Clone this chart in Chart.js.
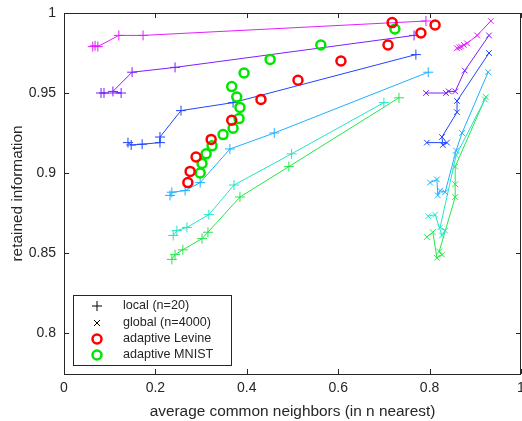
<!DOCTYPE html>
<html>
<head>
<meta charset="utf-8">
<script src="https://cdn.jsdelivr.net/npm/chart.js@4.4.0/dist/chart.umd.min.js"></script>
<style>
  html, body { margin: 0; padding: 0; background: #fff; }
  #wrap { width: 522px; height: 421px; }
</style>
</head>
<body>
<div id="wrap"><canvas id="chart" width="522" height="421"></canvas></div>
<script>
// 軸の目盛り
const xTicks = [0, 0.2, 0.4, 0.6, 0.8, 1];
const yTicks = [0.8, 0.85, 0.9, 0.95, 1];

// 色（n の値ごと）
const seriesColors = ["#e41cff", "#7f1cff", "#1f45ff", "#1fb0ff", "#22e6c4", "#22e84a"];

// local (n=20) : [x, y]
const localMagenta = [[0.063, 0.979], [0.068, 0.9795], [0.074, 0.979], [0.120, 0.986], [0.173, 0.986], [0.792, 0.995]];
const localViolet = [[0.081, 0.950], [0.0875, 0.950], [0.125, 0.950], [0.107, 0.951], [0.149, 0.963], [0.243, 0.966], [0.766, 0.986]];
const localBlue = [[0.140, 0.919], [0.147, 0.9175], [0.171, 0.918], [0.210, 0.919], [0.210, 0.9225], [0.256, 0.939], [0.370, 0.944], [0.770, 0.974]];
const localSky = [[0.232, 0.886], [0.236, 0.888], [0.265, 0.889], [0.298, 0.894], [0.363, 0.915], [0.460, 0.925], [0.797, 0.963]];
const localAqua = [[0.239, 0.861], [0.247, 0.864], [0.269, 0.866], [0.317, 0.874], [0.372, 0.8925], [0.498, 0.912], [0.700, 0.944]];
const localGreen = [[0.236, 0.846], [0.243, 0.849], [0.260, 0.852], [0.302, 0.859], [0.315, 0.863], [0.385, 0.885], [0.492, 0.904], [0.733, 0.947]];

// global (n=4000) : [x, y]
const globalMagenta = [[0.860, 0.978], [0.865, 0.9785], [0.869, 0.979], [0.875, 0.980], [0.882, 0.981], [0.904, 0.986], [0.934, 0.995]];
const globalViolet = [[0.792, 0.950], [0.836, 0.950], [0.842, 0.951], [0.856, 0.951], [0.877, 0.964], [0.930, 0.986]];
const globalBlue = [[0.794, 0.919], [0.838, 0.919], [0.829, 0.9175], [0.827, 0.9225], [0.860, 0.938], [0.860, 0.945], [0.930, 0.975]];
const globalSky = [[0.801, 0.894], [0.816, 0.896], [0.818, 0.886], [0.823, 0.889], [0.834, 0.888], [0.858, 0.914], [0.871, 0.925], [0.928, 0.963]];
const globalAqua = [[0.797, 0.873], [0.812, 0.874], [0.827, 0.861], [0.834, 0.864], [0.823, 0.866], [0.858, 0.911], [0.921, 0.946]];
const globalGreen = [[0.794, 0.860], [0.807, 0.863], [0.816, 0.847], [0.827, 0.849], [0.821, 0.851], [0.856, 0.885], [0.856, 0.893], [0.856, 0.904], [0.923, 0.9475]];

// adaptive
const adaptiveLevine = [[0.271, 0.894], [0.276, 0.901], [0.289, 0.910], [0.322, 0.921], [0.367, 0.933], [0.431, 0.946], [0.512, 0.958], [0.606, 0.970], [0.709, 0.980], [0.718, 0.994], [0.781, 0.9875], [0.812, 0.9925]];
const adaptiveMnist = [[0.298, 0.900], [0.302, 0.906], [0.311, 0.912], [0.324, 0.917], [0.348, 0.924], [0.370, 0.928], [0.383, 0.934], [0.385, 0.941], [0.378, 0.9475], [0.367, 0.954], [0.394, 0.9625], [0.451, 0.971], [0.562, 0.980], [0.724, 0.990]];

const legendLabels = ["local (n=20)", "global (n=4000)", "adaptive Levine", "adaptive MNIST"];

const localSeries = [localMagenta, localViolet, localBlue, localSky, localAqua, localGreen];
const globalSeries = [globalMagenta, globalViolet, globalBlue, globalSky, globalAqua, globalGreen];

const fontFamily = "'Liberation Sans', Arial, sans-serif";

function toPoints(arr) {
  return arr.map((p) => ({ x: p[0], y: p[1] }));
}

function lineDataset(arr, color, style) {
  return {
    data: toPoints(arr),
    showLine: true,
    borderColor: color,
    backgroundColor: color,
    borderWidth: 1,
    pointStyle: style,
    pointRadius: style === "cross" ? 5 : 4,
    pointBorderWidth: 1,
    pointBorderColor: color,
  };
}

const datasets = [];
// 円は線の上に描く
datasets.push({
  data: toPoints(adaptiveLevine),
  showLine: false,
  pointStyle: "circle",
  pointRadius: 4.5,
  pointBorderWidth: 2.5,
  pointBorderColor: "#ff0000",
  pointBackgroundColor: "rgba(0,0,0,0)",
});
datasets.push({
  data: toPoints(adaptiveMnist),
  showLine: false,
  pointStyle: "circle",
  pointRadius: 4.5,
  pointBorderWidth: 2.5,
  pointBorderColor: "#00e600",
  pointBackgroundColor: "rgba(0,0,0,0)",
});
localSeries.forEach((s, i) => datasets.push(lineDataset(s, seriesColors[i], "cross")));
globalSeries.forEach((s, i) => datasets.push(lineDataset(s, seriesColors[i], "crossRot")));

const axisColor = "#262626";

// 枠と内向きの目盛り、凡例
const boxPlugin = {
  id: "box",
  afterDraw(chart) {
    const ctx = chart.ctx;
    const a = chart.chartArea;
    const xs = chart.scales.x;
    const ys = chart.scales.y;
    ctx.save();
    ctx.strokeStyle = axisColor;
    ctx.lineWidth = 1;
    ctx.strokeRect(a.left + 0.5, a.top + 0.5, a.right - a.left - 1, a.bottom - a.top);
    ctx.beginPath();
    xTicks.forEach((v) => {
      const px = Math.round(xs.getPixelForValue(v)) + 0.5;
      ctx.moveTo(px, a.bottom);
      ctx.lineTo(px, a.bottom - 5);
      ctx.moveTo(px, a.top);
      ctx.lineTo(px, a.top + 5);
    });
    yTicks.forEach((v) => {
      const py = Math.round(ys.getPixelForValue(v)) + 0.5;
      ctx.moveTo(a.left, py);
      ctx.lineTo(a.left + 5, py);
      ctx.moveTo(a.right, py);
      ctx.lineTo(a.right - 5, py);
    });
    ctx.stroke();

    const lx = 73.5, ly = 295.5, lw = 158, lh = 70;
    ctx.fillStyle = "#fff";
    ctx.fillRect(lx, ly, lw, lh);
    ctx.strokeStyle = axisColor;
    ctx.strokeRect(lx, ly, lw, lh);
    const rows = [306, 323, 339, 355];
    ctx.font = "12.6px " + fontFamily;
    ctx.textBaseline = "middle";
    ctx.textAlign = "left";
    rows.forEach((ry, i) => {
      const mx = 97;
      ctx.lineWidth = 1;
      ctx.strokeStyle = "#000";
      ctx.beginPath();
      if (i === 0) {
        ctx.moveTo(mx - 5, ry); ctx.lineTo(mx + 5, ry);
        ctx.moveTo(mx, ry - 5); ctx.lineTo(mx, ry + 5);
        ctx.stroke();
      } else if (i === 1) {
        ctx.moveTo(mx - 3, ry - 3); ctx.lineTo(mx + 3, ry + 3);
        ctx.moveTo(mx - 3, ry + 3); ctx.lineTo(mx + 3, ry - 3);
        ctx.stroke();
      } else {
        ctx.lineWidth = 2.5;
        ctx.strokeStyle = i === 2 ? "#ff0000" : "#00e600";
        ctx.arc(mx, ry, 4.5, 0, Math.PI * 2);
        ctx.stroke();
      }
      ctx.fillStyle = axisColor;
      ctx.fillText(legendLabels[i], 123, ry);
    });
    ctx.restore();
  },
};

new Chart(document.getElementById("chart"), {
  type: "scatter",
  data: { datasets: datasets },
  options: {
    responsive: false,
    animation: false,
    layout: { autoPadding: false, padding: { left: 0, right: 1, top: 13, bottom: 0 } },
    plugins: { legend: { display: false }, tooltip: { enabled: false } },
    scales: {
      x: {
        type: "linear",
        min: 0,
        max: 1,
        afterBuildTicks: (s) => { s.ticks = xTicks.map((v) => ({ value: v })); },
        afterFit: (s) => { s.height = 47; s.paddingLeft = 0; s.paddingRight = 0; },
        grid: { display: false, drawTicks: false },
        border: { display: false },
        ticks: {
          padding: 6,
          color: axisColor,
          font: { family: fontFamily, size: 14 },
          callback: (v) => String(v),
        },
        title: {
          display: true,
          text: "average common neighbors (in n nearest)",
          color: axisColor,
          padding: { top: 2, bottom: 0 },
          font: { family: fontFamily, size: 15.4 },
        },
      },
      y: {
        type: "linear",
        min: 0.7744,
        max: 1,
        afterBuildTicks: (s) => { s.ticks = yTicks.map((v) => ({ value: v })); },
        afterFit: (s) => { s.width = 64; s.paddingTop = 0; s.paddingBottom = 0; },
        grid: { display: false, drawTicks: false },
        border: { display: false },
        ticks: {
          padding: 8,
          color: axisColor,
          font: { family: fontFamily, size: 14 },
          callback: (v) => String(v),
        },
        title: {
          display: true,
          text: "retained information",
          color: axisColor,
          padding: { top: 9, bottom: 0 },
          font: { family: fontFamily, size: 15.4 },
        },
      },
    },
  },
  plugins: [boxPlugin],
});
</script>
</body>
</html>
